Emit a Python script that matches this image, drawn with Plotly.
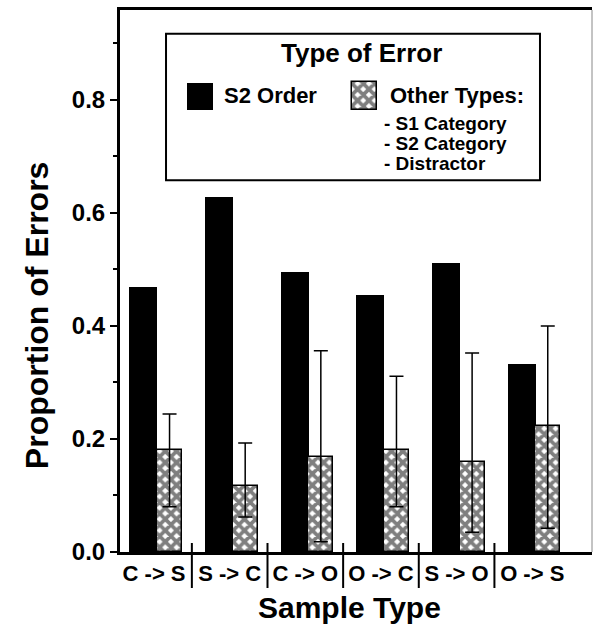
import plotly.graph_objects as go

# ---- data ----
categories = ["C -> S", "S -> C", "C -> O", "O -> C", "S -> O", "O -> S"]
s2_order = [0.469, 0.628, 0.496, 0.455, 0.512, 0.333]
other_types = [0.181, 0.117, 0.168, 0.181, 0.159, 0.223]
other_err_plus = [0.063, 0.076, 0.188, 0.130, 0.193, 0.177]
other_err_minus = [0.101, 0.055, 0.150, 0.101, 0.124, 0.181]
series_names = ["S2 Order", "Other Types:"]
other_sub_types = ["- S1 Category", "- S2 Category", "- Distractor"]
y_ticks = [0.0, 0.2, 0.4, 0.6, 0.8]

FONT = "Liberation Sans"
BLACK = "#000000"
HATCH = dict(shape="x", fgcolor=BLACK, bgcolor="white", size=8, solidity=0.72, fillmode="overlay")


def bold(size):
    return dict(family=FONT, size=size, color=BLACK, weight="bold")


fig = go.Figure()

fig.add_trace(go.Bar(
    x=categories, y=s2_order, name=series_names[0],
    marker=dict(color=BLACK, line=dict(color=BLACK, width=0)),
    width=0.37, offset=-0.327, showlegend=False,
))
fig.add_trace(go.Bar(
    x=categories, y=other_types, name=series_names[1],
    marker=dict(color="white", pattern=HATCH, line=dict(color=BLACK, width=1.5)),
    width=0.33, offset=0.04, showlegend=False,
    error_y=dict(type="data", symmetric=False, array=other_err_plus,
                 arrayminus=other_err_minus, color=BLACK, thickness=1.5, width=7),
))

# legend swatches on an invisible overlay axis (paper-like 0..1 units)
sw_x = [0.1695, 0.518]
sw_base = [0.8155, 0.8155]
sw_h = [0.0498, 0.0515]
fig.add_trace(go.Bar(
    x=[sw_x[0]], y=[sw_h[0]], base=[sw_base[0]], width=0.055,
    marker=dict(color=BLACK, line=dict(width=0)),
    xaxis="x2", yaxis="y2", showlegend=False, hoverinfo="skip",
))
fig.add_trace(go.Bar(
    x=[sw_x[1]], y=[sw_h[1]], base=[sw_base[1]], width=0.053,
    marker=dict(color="white", pattern=HATCH, line=dict(color=BLACK, width=1.5)),
    xaxis="x2", yaxis="y2", showlegend=False, hoverinfo="skip",
))

shapes = []
# category separators crossing the x axis
for i in range(len(categories) - 1):
    shapes.append(dict(type="line", xref="x", yref="paper",
                       x0=i + 0.5, x1=i + 0.5, y0=0.0166, y1=-0.0664,
                       line=dict(color=BLACK, width=2)))
# right border (faint)
shapes.append(dict(type="line", xref="paper", yref="paper", x0=1, x1=1, y0=0, y1=1,
                   line=dict(color="#888888", width=1)))
# legend box
shapes.append(dict(type="rect", xref="paper", yref="paper",
                   x0=0.0975, x1=0.8898, y0=0.686, y1=0.956,
                   line=dict(color=BLACK, width=2), fillcolor="rgba(0,0,0,0)"))


def ann(text, x, y, size, xanchor="center", **kw):
    return dict(text=text, xref="paper", yref="paper", x=x, y=y, xanchor=xanchor,
                yanchor="middle", showarrow=False, font=bold(size), **kw)


annotations = [
    ann("Proportion of Errors", -0.1758, 0.437, 32, textangle=-90),
    ann("Sample Type", 0.487, -0.1015, 30),
    ann("Type of Error", 0.5106, 0.9207, 26),
    ann(series_names[0], 0.216, 0.843, 22, xanchor="left"),
    ann(series_names[1], 0.568, 0.843, 22, xanchor="left"),
]
for t, yy in zip(other_sub_types, [0.7915, 0.7546, 0.7177]):
    annotations.append(ann(t, 0.555, yy, 19, xanchor="left"))

fig.update_layout(
    width=594, height=631,
    margin=dict(l=120, r=2, t=10, b=79),
    paper_bgcolor="white", plot_bgcolor="white",
    barmode="overlay", bargap=0,
    showlegend=False,
    font=dict(family=FONT, color=BLACK),
    shapes=shapes, annotations=annotations,
    xaxis=dict(
        type="category", range=[-0.45, 5.79],
        showline=True, linecolor=BLACK, linewidth=3, mirror=True,
        ticks="", showgrid=False, zeroline=False,
        tickfont=bold(22),
        ticklabelstandoff=0,
    ),
    yaxis=dict(
        range=[0, 0.959],
        showline=True, linecolor=BLACK, linewidth=3,
        ticks="outside", ticklen=7, tickwidth=2, tickcolor=BLACK,
        tickvals=y_ticks, tickformat=".1f",
        minor=dict(dtick=0.1, ticks="outside", ticklen=4, tickwidth=1.5, tickcolor=BLACK),
        showgrid=False, zeroline=False,
        tickfont=bold(24),
    ),
    xaxis2=dict(overlaying="x", range=[0, 1], visible=False, anchor="y2"),
    yaxis2=dict(overlaying="y", range=[0, 1], visible=False, anchor="x2"),
)

fig.write_html("out.html", config={"displayModeBar": False},
               post_script="document.body.style.margin='0px';")
